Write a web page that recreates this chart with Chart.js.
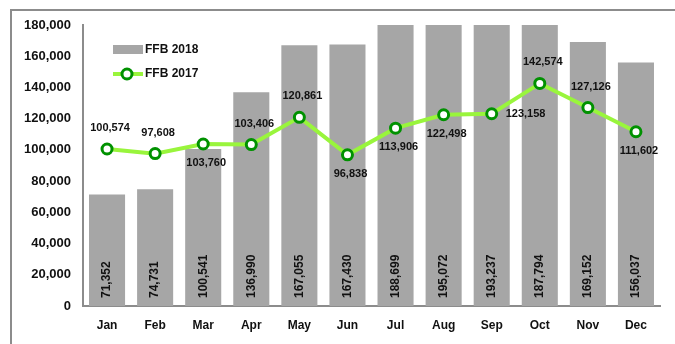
<!DOCTYPE html>
<html>
<head>
<meta charset="utf-8">
<script src="https://cdn.jsdelivr.net/npm/chart.js@4"></script>
<style>
  html, body { margin: 0; padding: 0; background: #fff; }
  #wrap { width: 675px; height: 344px; }
</style>
</head>
<body>
<div id="wrap"><canvas id="ffbChart" width="675" height="344"></canvas></div>
<script>
var months = ["Jan", "Feb", "Mar", "Apr", "May", "Jun", "Jul", "Aug", "Sep", "Oct", "Nov", "Dec"];
var ffb2018 = [71352, 74731, 100541, 136990, 167055, 167430, 188699, 195072, 193237, 187794, 169152, 156037];
var ffb2017 = [100574, 97608, 103760, 103406, 120861, 96838, 113906, 122498, 123158, 142574, 127126, 111602];
var labelSide2017 = ["top", "top", "bottom", "top", "top", "bottom", "bottom", "bottom", "right", "top", "top", "bottom"];
var yTicks = [0, 20000, 40000, 60000, 80000, 100000, 120000, 140000, 160000, 180000];

var barGray = "#a6a6a6";
var lineGreen = "#99f53c";
var pointGreen = "#009100";
var axisGray = "#8c8c8c";

function fmt(n) {
  return n.toString().replace(/\B(?=(\d{3})+(?!\d))/g, ",");
}

// frame, legend and value labels
var extras = {
  id: "extras",
  beforeDraw: function (chart) {
    var ctx = chart.ctx;
    ctx.save();
    ctx.strokeStyle = axisGray;
    ctx.lineWidth = 2;
    ctx.strokeRect(11, 10, 720, 400);
    ctx.restore();
  },
  afterDatasetsDraw: function (chart) {
    var ctx = chart.ctx;
    ctx.save();
    ctx.fillStyle = "#111";

    // bar values, rotated
    ctx.font = "bold 12px 'Liberation Sans', Arial, sans-serif";
    var bars = chart.getDatasetMeta(0).data;
    bars.forEach(function (b, i) {
      ctx.save();
      ctx.translate(b.x, chart.chartArea.bottom - 8);
      ctx.rotate(-Math.PI / 2);
      ctx.textAlign = "left";
      ctx.textBaseline = "middle";
      ctx.fillText(fmt(ffb2018[i]), 0, 0);
      ctx.restore();
    });

    // line values
    ctx.font = "bold 11px 'Liberation Sans', Arial, sans-serif";
    var pts = chart.getDatasetMeta(1).data;
    pts.forEach(function (p, i) {
      var side = labelSide2017[i];
      ctx.textBaseline = "middle";
      if (side === "right") {
        ctx.textAlign = "left";
        ctx.fillText(fmt(ffb2017[i]), p.x + 14, p.y);
      } else {
        ctx.textAlign = "center";
        ctx.fillText(fmt(ffb2017[i]), p.x + 3, side === "top" ? p.y - 21 : p.y + 19);
      }
    });

    // legend
    ctx.font = "bold 12px 'Liberation Sans', Arial, sans-serif";
    ctx.textAlign = "left";
    ctx.textBaseline = "middle";
    ctx.fillStyle = barGray;
    ctx.fillRect(113, 45, 30, 9);
    ctx.fillStyle = "#111";
    ctx.fillText("FFB 2018", 145, 50);

    ctx.strokeStyle = lineGreen;
    ctx.lineWidth = 4;
    ctx.beginPath();
    ctx.moveTo(113, 74);
    ctx.lineTo(143, 74);
    ctx.stroke();
    ctx.beginPath();
    ctx.arc(127, 74, 5, 0, Math.PI * 2);
    ctx.fillStyle = "#fff";
    ctx.fill();
    ctx.strokeStyle = pointGreen;
    ctx.lineWidth = 3;
    ctx.stroke();
    ctx.fillStyle = "#111";
    ctx.fillText("FFB 2017", 145, 74);
    ctx.restore();
  }
};

var ctx = document.getElementById("ffbChart").getContext("2d");
var ffbChart = new Chart(ctx, {
  type: "bar",
  data: {
    labels: months,
    datasets: [{
      type: "bar",
      label: "FFB 2018",
      data: ffb2018,
      backgroundColor: barGray,
      barPercentage: 0.75,
      categoryPercentage: 1,
      order: 2
    }, {
      type: "line",
      label: "FFB 2017",
      data: ffb2017,
      borderColor: lineGreen,
      borderWidth: 4,
      pointRadius: 5,
      pointBorderWidth: 3,
      pointBorderColor: pointGreen,
      pointBackgroundColor: "#fff",
      tension: 0,
      order: 1
    }]
  },
  options: {
    responsive: false,
    animation: false,
    layout: { padding: { left: 0, right: 15, top: 25, bottom: 0 } },
    plugins: {
      legend: { display: false },
      tooltip: { enabled: false }
    },
    scales: {
      x: {
        grid: { display: false, drawTicks: false },
        border: { display: true, color: axisGray, width: 2 },
        ticks: {
          color: "#111",
          padding: 12,
          font: { family: "'Liberation Sans', Arial, sans-serif", size: 12, weight: "bold" }
        },
        afterFit: function (scale) { scale.height = 38; }
      },
      y: {
        min: 0,
        max: 180000,
        grid: { display: false, drawTicks: false },
        border: { display: true, color: axisGray, width: 2 },
        afterBuildTicks: function (scale) {
          scale.ticks = yTicks.map(function (v) { return { value: v }; });
        },
        ticks: {
          color: "#111",
          padding: 12,
          font: { family: "'Liberation Sans', Arial, sans-serif", size: 13, weight: "bold" },
          callback: function (v) { return fmt(v); }
        },
        afterFit: function (scale) { scale.width = 83; }
      }
    }
  },
  plugins: [extras]
});
</script>
</body>
</html>
